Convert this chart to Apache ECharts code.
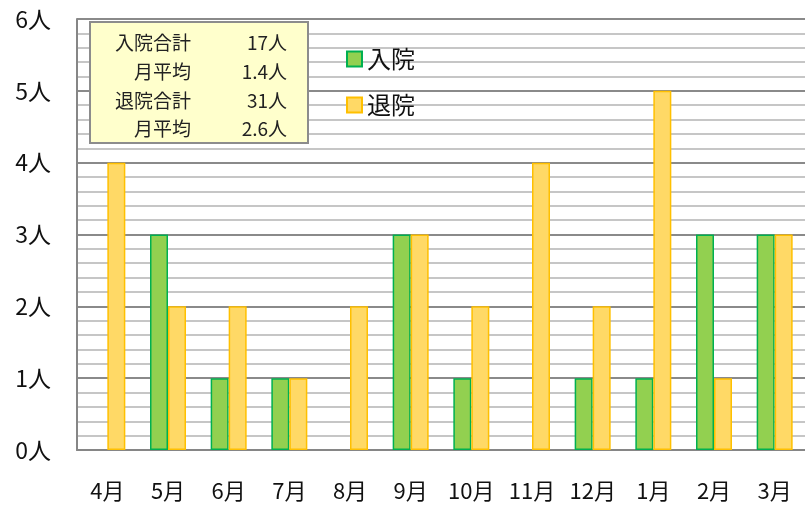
<!DOCTYPE html>
<html>
<head>
<meta charset="utf-8">
<script src="https://cdn.jsdelivr.net/npm/echarts@6/dist/echarts.min.js"></script>
<style>
html, body { margin: 0; padding: 0; background: #fff; }
#main { width: 805px; height: 509px; }
</style>
</head>
<body>
<div id="main"></div>
<script>
// 月別データ
const months = ['4月', '5月', '6月', '7月', '8月', '9月', '10月', '11月', '12月', '1月', '2月', '3月'];
const admit = [0, 3, 1, 1, 0, 3, 1, 0, 1, 1, 3, 3];
const discharge = [4, 2, 2, 1, 2, 3, 2, 4, 2, 5, 1, 3];
const summaryLabels = ['入院合計', '月平均', '退院合計', '月平均'];
const summaryValues = ['17人', '1.4人', '31人', '2.6人'];

const FONT = '"Noto Sans CJK JP", sans-serif';
const chart = echarts.init(document.getElementById('main'));

// 0件は棒を描かない
const noZero = arr => arr.map(v => (v === 0 ? '-' : v));

// 合計ボックス
const graphics = [{
    type: 'rect', z: 100, x: 90, y: 22,
    shape: { x: 0, y: 0, width: 218, height: 121 },
    style: { fill: '#FFFFCC', stroke: '#8c8c8c', lineWidth: 2 }
}];
summaryLabels.forEach((t, i) => {
    const y = 43 + i * 28.7;
    graphics.push({
        type: 'text', z: 101, x: 191, y: y,
        style: { text: t, textAlign: 'right', textVerticalAlign: 'middle', fontSize: 19, fontFamily: FONT, fill: '#222' }
    });
    graphics.push({
        type: 'text', z: 101, x: 287, y: y,
        style: { text: summaryValues[i], textAlign: 'right', textVerticalAlign: 'middle', fontSize: 19, fontFamily: FONT, fill: '#222' }
    });
});

const option = {
    animation: false,
    textStyle: { fontFamily: FONT },
    grid: { left: 77, right: 0, top: 19, bottom: 59 },
    legend: {
        orient: 'vertical',
        left: 341, top: 42,
        icon: 'rect',
        itemWidth: 15, itemHeight: 15, itemGap: 22,
        textStyle: { fontSize: 24, color: '#111', fontFamily: FONT },
        data: ['入院', '退院']
    },
    xAxis: {
        type: 'category',
        data: months,
        axisTick: { show: false },
        axisLine: { lineStyle: { color: '#868686', width: 2 } },
        axisLabel: { fontSize: 22, color: '#111', margin: 30 }
    },
    yAxis: {
        type: 'value',
        min: 0, max: 6, interval: 1,
        axisLine: { show: true, lineStyle: { color: '#868686', width: 2 } },
        axisTick: { show: false },
        axisLabel: { fontSize: 23, color: '#111', margin: 26, formatter: v => v + '人' },
        splitLine: { lineStyle: { color: '#8a8a8a', width: 2 } },
        minorTick: { show: false, splitNumber: 5 },
        minorSplitLine: { show: true, lineStyle: { color: '#c6c6c6', width: 2 } }
    },
    series: [
        {
            name: '入院', type: 'bar', data: noZero(admit),
            barWidth: 18, barGap: '0%',
            itemStyle: { color: '#92D050', borderColor: '#00B050', borderWidth: 1.5 }
        },
        {
            name: '退院', type: 'bar', data: noZero(discharge),
            barWidth: 18,
            itemStyle: { color: '#FFD966', borderColor: '#FFC000', borderWidth: 1.5 }
        }
    ],
    graphic: graphics
};
chart.setOption(option);
</script>
</body>
</html>
